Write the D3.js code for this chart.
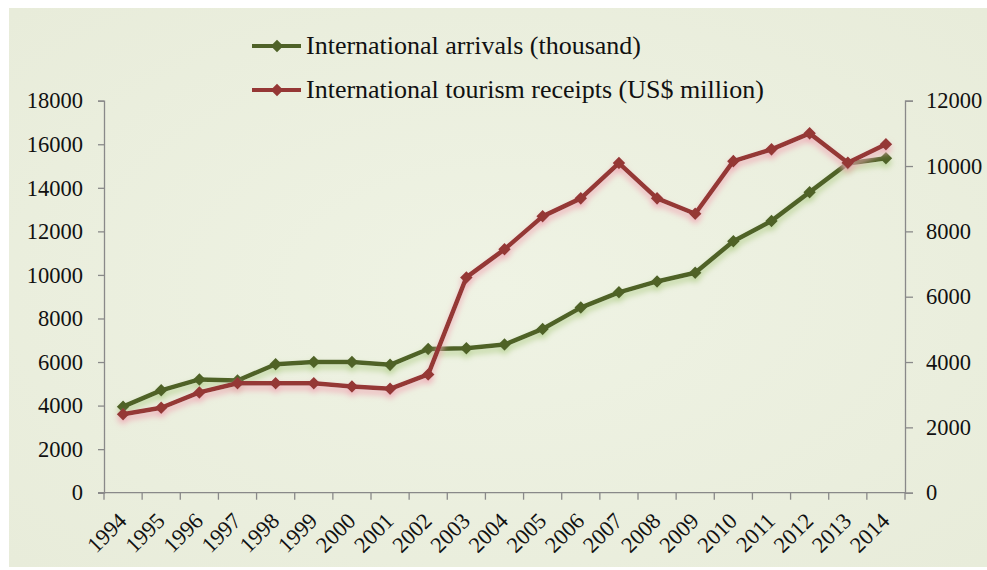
<!DOCTYPE html>
<html>
<head>
<meta charset="utf-8">
<script src="https://cdn.jsdelivr.net/npm/d3@7"></script>
<style>
  html, body { margin: 0; padding: 0; background: #ffffff; }
  svg { display: block; }
  text { font-family: "Liberation Serif", "Times New Roman", serif; fill: #111; }
</style>
</head>
<body>
<svg id="chart" width="987" height="570"></svg>
<script>
// Years on the category axis
const years = ["1994","1995","1996","1997","1998","1999","2000","2001","2002","2003","2004",
               "2005","2006","2007","2008","2009","2010","2011","2012","2013","2014"];

// International arrivals (thousand) – left axis
const arrivals = [3950, 4700, 5200, 5150, 5900, 6000, 6000, 5870, 6600, 6630, 6800,
                  7520, 8500, 9200, 9700, 10100, 11550, 12480, 13800, 15120, 15360];

// International tourism receipts (US$ million) – right axis
const receipts = [2400, 2600, 3070, 3350, 3350, 3350, 3250, 3180, 3620, 6590, 7450,
                  8460, 9010, 10090, 9010, 8540, 10150, 10510, 11000, 10100, 10670];

const leftTicks  = [0, 2000, 4000, 6000, 8000, 10000, 12000, 14000, 16000, 18000];
const rightTicks = [0, 2000, 4000, 6000, 8000, 10000, 12000];

const seriesNames = ["International arrivals (thousand)", "International tourism receipts (US$ million)"];
const seriesColors = ["#4f6228", "#953735"];
const shadowColors = ["#b8d294", "#efaab6"];

const svg = d3.select("#chart");
const W = 987, H = 570;
const plot = { left: 104, right: 905, top: 100.7, bottom: 492.7 };

// Background panel with a soft radial tint
const defs = svg.append("defs");
const grad = defs.append("radialGradient").attr("id", "bg")
  .attr("cx", "50%").attr("cy", "50%").attr("r", "70%");
grad.append("stop").attr("offset", "0%").attr("stop-color", "#eff3e4");
grad.append("stop").attr("offset", "100%").attr("stop-color", "#e8ecda");

svg.append("rect").attr("x", 9).attr("y", 8).attr("width", W - 9).attr("height", 559)
  .attr("fill", "url(#bg)");

// Soft coloured drop shadows under each line
seriesColors.forEach((c, i) => {
  const f = defs.append("filter").attr("id", "glow" + i)
    .attr("x", "-10%").attr("y", "-20%").attr("width", "120%").attr("height", "140%");
  f.append("feOffset").attr("in", "SourceAlpha").attr("dx", 0).attr("dy", 4).attr("result", "off");
  f.append("feGaussianBlur").attr("in", "off").attr("stdDeviation", 3).attr("result", "blur");
  f.append("feFlood").attr("flood-color", shadowColors[i]).attr("flood-opacity", 1).attr("result", "col");
  f.append("feComposite").attr("in", "col").attr("in2", "blur").attr("operator", "in").attr("result", "sh");
  const m = f.append("feMerge");
  m.append("feMergeNode").attr("in", "sh");
  m.append("feMergeNode").attr("in", "SourceGraphic");
});

// Scales
const x = d3.scaleBand().domain(years).range([plot.left, plot.right]).padding(0);
const yL = d3.scaleLinear().domain([0, 18000]).range([plot.bottom, plot.top]);
const yR = d3.scaleLinear().domain([0, 12000]).range([plot.bottom, plot.top]);
const cx = d => x(d) + x.bandwidth() / 2;

const axisColor = "#898989";
const tickFont = 22.5;

// Left axis
const gL = svg.append("g").attr("transform", `translate(${plot.left},0)`)
  .call(d3.axisLeft(yL).tickValues(leftTicks).tickSize(6).tickPadding(15).tickFormat(d3.format("d")));
// Right axis
const gR = svg.append("g").attr("transform", `translate(${plot.right},0)`)
  .call(d3.axisRight(yR).tickValues(rightTicks).tickSize(8).tickPadding(13).tickFormat(d3.format("d")));
[gL, gR].forEach(g => {
  g.attr("font-size", tickFont).attr("font-family", "Liberation Serif");
  g.select(".domain").attr("stroke", axisColor).attr("stroke-width", 1.3);
  g.selectAll(".tick line").attr("stroke", axisColor).attr("stroke-width", 1.3);
  g.selectAll(".tick text").attr("font-size", tickFont).attr("fill", "#111");
});

// Bottom axis: ticks sit on the category boundaries
const gB = svg.append("g").attr("transform", `translate(0,${plot.bottom})`);
gB.append("line").attr("x1", plot.left - 6).attr("x2", plot.right)
  .attr("stroke", axisColor).attr("stroke-width", 1.3);
const bounds = years.map(d => x(d)).concat([x.range()[1]]);
gB.selectAll("line.tk").data(bounds).join("line").attr("class", "tk")
  .attr("x1", d => d).attr("x2", d => d).attr("y1", 0).attr("y2", 7)
  .attr("stroke", axisColor).attr("stroke-width", 1.3);
gB.selectAll("text").data(years).join("text")
  .attr("transform", d => `translate(${cx(d) + 5},${29.5}) rotate(-45)`)
  .attr("text-anchor", "end")
  .attr("font-size", tickFont)
  .text(d => d);

// Lines and diamond markers
const series = [
  { values: arrivals, y: yL },
  { values: receipts, y: yR }
];
const diamond = d3.symbol().type(d3.symbolDiamond2).size(100);

series.forEach((s, i) => {
  const g = svg.append("g").attr("filter", `url(#glow${i})`);
  const pts = years.map((yr, k) => [cx(yr), s.y(s.values[k])]);
  g.append("path").attr("d", d3.line()(pts))
    .attr("fill", "none").attr("stroke", seriesColors[i]).attr("stroke-width", 4.5)
    .attr("stroke-linejoin", "round");
  g.selectAll("path.m").data(pts).join("path").attr("class", "m")
    .attr("transform", p => `translate(${p[0]},${p[1]})`)
    .attr("d", diamond).attr("fill", seriesColors[i]);
});

// Legend
const legY = [46, 90];
seriesNames.forEach((name, i) => {
  const g = svg.append("g");
  g.append("line").attr("x1", 252).attr("x2", 301).attr("y1", legY[i]).attr("y2", legY[i])
    .attr("stroke", seriesColors[i]).attr("stroke-width", 4);
  g.append("path").attr("transform", `translate(277,${legY[i]})`)
    .attr("d", diamond).attr("fill", seriesColors[i]);
  g.append("text").attr("x", 306).attr("y", legY[i] + 8).attr("font-size", 26).text(name);
});
</script>
</body>
</html>
